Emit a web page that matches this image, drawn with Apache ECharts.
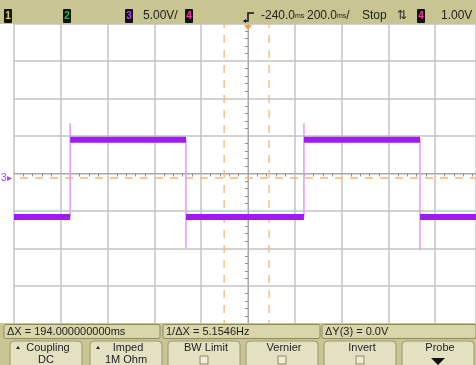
<!DOCTYPE html>
<html><head><meta charset="utf-8">
<script src="https://cdn.jsdelivr.net/npm/echarts@6/dist/echarts.min.js"></script>
<style>html,body{margin:0;padding:0;background:#fff}#c{width:476px;height:365px}</style>
</head><body><div id="c"></div>
<script>
// time in ms relative to screen centre, voltage in V (channel 3, 5 V/div, 200 ms/div)
const levelTimes  = [-1000, -760, -760, -265, -265, 239, 239, 735, 735, 1000];
const levelValues = [-5.2, -5.2, 5.1, 5.1, -5.2, -5.2, 5.1, 5.1, -5.2, -5.2];
const edgeTimes   = [-760, -265, 239, 735];
const edgeFrom    = [-5.2, 5.1, -5.2, 5.1];
const edgeTo      = [7.3, -9.3, 7.3, -9.6];
const cursorTimes = [-102, 90];
const cursorVolts = [0];
const topTexts = ['5.00V/', '-240.0', '200.0', 'Stop', '1.00V'];
const infoTexts = ['ΔX = 194.000000000ms', '1/ΔX = 5.1546Hz', 'ΔY(3) = 0.0V'];
const buttonTop = ['Coupling', 'Imped', 'BW Limit', 'Vernier', 'Invert', 'Probe'];
const buttonBottom = ['DC', '1M Ohm', '', '', '', ''];

const levelData = [];
for (let i = 0; i < levelTimes.length; i += 2) {
  levelData.push([levelTimes[i], levelValues[i]], [levelTimes[i+1], levelValues[i+1]], '-');
}
const edgeData = [];
edgeTimes.forEach((t, i) => { edgeData.push([t, edgeFrom[i]], [t, edgeTo[i]], '-'); });

const chart = echarts.init(document.getElementById('c'));
const FONT = 'Liberation Sans';
const bar = '#c9c592';
const g = [];
// top bar
g.push({type:'rect', shape:{x:0,y:0,width:476,height:24}, style:{fill:bar}, z:100});
function chBox(x, label, col){
  g.push({type:'rect', shape:{x:x,y:9,width:8,height:14,r:1}, style:{fill:'#111'}, z:101});
  g.push({type:'text', x:x+4, y:16, style:{text:label, fill:col, font:'bold 10px '+FONT, align:'center', verticalAlign:'middle'}, z:102});
}
chBox(4,'1','#e0dc20'); chBox(63,'2','#20c040'); chBox(125,'3','#b040ff'); chBox(185,'4','#ff3aa0'); chBox(417,'4','#ff3aa0');
const tt = (x, s, al) => g.push({type:'text', x:x, y:16, style:{text:s, fill:'#222', font:'12px '+FONT, align:al||'left', verticalAlign:'middle'}, z:102});
tt(143, topTexts[0]);
g.push({type:'text', x:261, y:16, style:{text:'{a|'+topTexts[1]+'}{b|ms}', rich:{a:{fill:'#222',font:'12px '+FONT},b:{fill:'#222',font:'7px '+FONT}}, verticalAlign:'middle'}, z:102});
g.push({type:'text', x:307, y:16, style:{text:'{a|'+topTexts[2]+'}{b|ms}{a|/}', rich:{a:{fill:'#222',font:'12px '+FONT},b:{fill:'#222',font:'7px '+FONT}}, verticalAlign:'middle'}, z:102});
tt(362, topTexts[3]);
tt(402, '⇅', 'center');
tt(441, topTexts[4]);
// trigger symbol
g.push({type:'polyline', shape:{points:[[244,21],[248,21],[248,13],[254,13]]}, style:{stroke:'#111',lineWidth:1.5,fill:null}, z:102});
g.push({type:'polygon', shape:{points:[[246,19],[246,23],[243,21]]}, style:{fill:'#111'}, z:102});
// trigger position marker
g.push({type:'polygon', shape:{points:[[244,25],[252,25],[248,30]]}, style:{fill:'#f5a040'}, z:102});
// ch3 ground marker
g.push({type:'text', x:1, y:178, style:{text:'3▸', fill:'#b040ff', font:'10px '+FONT, verticalAlign:'middle'}, z:102});
// bottom area
g.push({type:'rect', shape:{x:0,y:323,width:476,height:42}, style:{fill:bar}, z:100});
const boxes = [[4,156],[163,157],[322,154]];
boxes.forEach((b,i)=>{
  g.push({type:'rect', shape:{x:b[0],y:324.5,width:b[1],height:14,r:2}, style:{fill:'#d9d6ac',stroke:'#8f8b60',lineWidth:1}, z:101});
  g.push({type:'text', x:b[0]+3, y:332, style:{text:infoTexts[i], fill:'#222', font:'11px '+FONT, verticalAlign:'middle'}, z:102});
});
const bx = [10, 90, 168, 246, 324, 402];
bx.forEach((x,i)=>{
  g.push({type:'rect', shape:{x:x,y:341,width:72,height:30,r:4}, style:{fill:'#e4e1c2',stroke:'#9a9670',lineWidth:1}, z:101});
  g.push({type:'text', x:x+38, y:348, style:{text:buttonTop[i], fill:'#222', font:'11px '+FONT, align:'center', verticalAlign:'middle'}, z:102});
  if (buttonBottom[i]) g.push({type:'text', x:x+36, y:360, style:{text:buttonBottom[i], fill:'#222', font:'11px '+FONT, align:'center', verticalAlign:'middle'}, z:102});
  if (i < 2) g.push({type:'polygon', shape:{points:[[x+6,349],[x+10,349],[x+8,346]]}, style:{fill:'#222'}, z:102});
  if (i >= 2 && i <= 4) g.push({type:'rect', shape:{x:x+32,y:356,width:8,height:8}, style:{fill:'#eeecd8',stroke:'#8f8b60',lineWidth:1}, z:102});
  if (i === 5) g.push({type:'polygon', shape:{points:[[x+29,358],[x+43,358],[x+36,365]]}, style:{fill:'#111'}, z:102});
});

chart.setOption({
  animation:false,
  backgroundColor:'#fff',
  grid:{left:14, top:23.5, width:462, height:300},
  xAxis:{type:'value', min:-1000, max:974.36, interval:200,
    axisLabel:{show:false},
    axisLine:{show:true, onZero:true, lineStyle:{color:'#a8a8a8', width:1}},
    axisTick:{show:false},
    minorTick:{show:true, splitNumber:5, length:3, lineStyle:{color:'#909090'}},
    splitLine:{show:true, lineStyle:{color:'#c4c4c4', width:1.5}}},
  yAxis:[
    {type:'value', min:-20, max:20, interval:5,
     axisLabel:{show:false},
     axisLine:{show:true, onZero:true, lineStyle:{color:'#a8a8a8', width:1}},
     axisTick:{show:false},
     minorTick:{show:true, splitNumber:5, length:3, lineStyle:{color:'#909090'}},
     splitLine:{show:true, lineStyle:{color:'#c4c4c4', width:1.5}}},
    {type:'value', min:-19.4, max:20.6, show:false, splitLine:{show:false}}
  ],
  series:[
    {type:'line', yAxisIndex:1, data:cursorTimes.flatMap(t=>[[t,-30],[t,30],'-']).concat([[-2000,cursorVolts[0]],[2000,cursorVolts[0]]]),
     symbol:'none', silent:true, lineStyle:{color:'#f7b870', width:1.3, type:[8,7]}, z:2},
    {type:'line', yAxisIndex:1, data:edgeData, symbol:'none', lineStyle:{color:'#e49af8', width:1.5}, z:3},
    {type:'line', yAxisIndex:1, data:levelData, symbol:'none',
     lineStyle:{color:'#9c1cf2', width:6}, z:4}
  ],
  graphic:{elements:g}
});
</script></body></html>
